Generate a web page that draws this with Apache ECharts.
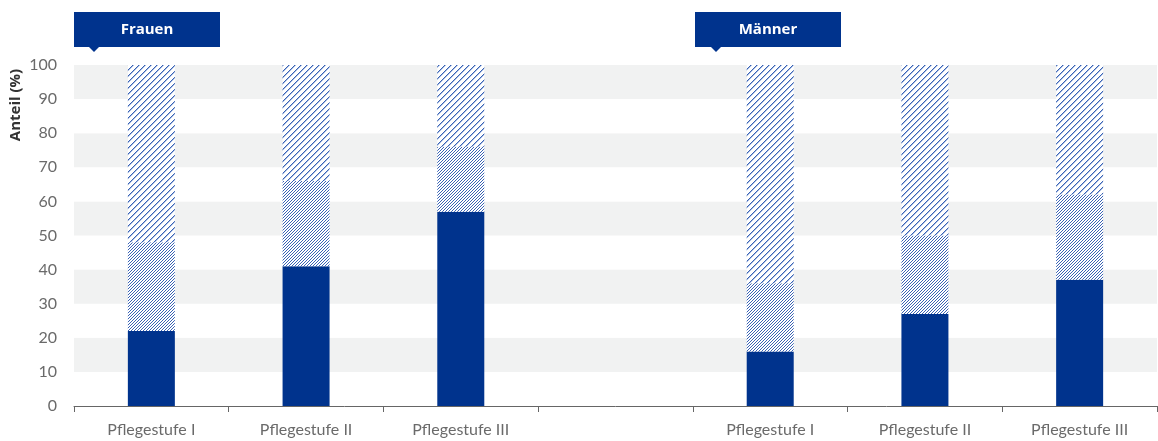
<!DOCTYPE html>
<html><head><meta charset="utf-8">
<script src="https://cdn.jsdelivr.net/npm/echarts@6/dist/echarts.min.js"></script>
<style>html,body{margin:0;padding:0;background:#fff}#c{width:1158px;height:441px}</style>
</head><body><div id="c"></div>
<script>
const categories = ['Pflegestufe I','Pflegestufe II','Pflegestufe III','','Pflegestufe I','Pflegestufe II','Pflegestufe III'];
const solidValues = [22, 41, 57, null, 16, 27, 37];
const denseTop = [48, 66, 76, null, 36, 50, 62];
const totalTop = [100, 100, 100, null, 100, 100, 100];
const yTicks = [0,10,20,30,40,50,60,70,80,90,100];
const groupTitles = ['Frauen', 'Männer'];

const denseValues = denseTop.map((v,i)=> v==null?null: v - solidValues[i]);
const sparseValues = totalTop.map((v,i)=> v==null?null: v - denseTop[i]);

const BLUE = '#00338d';
function hatch(s, color, soft){
  const c = document.createElement('canvas');
  c.width = s; c.height = s;
  const ctx = c.getContext('2d');
  ctx.fillStyle = '#fff'; ctx.fillRect(0,0,s,s);
  for(let y=0;y<s;y++) for(let x=0;x<s;x++){
    const r = (x+y)%s;
    if(r === s-1){ ctx.fillStyle = color; ctx.fillRect(x,y,1,1); }
    else if(soft && r === 0){ ctx.fillStyle = soft; ctx.fillRect(x,y,1,1); }
  }
  return c;
}
const densePat = {image: hatch(3,'#3862b5'), repeat:'repeat'};
const sparsePat = {image: hatch(6,'#3862b5','#a9bde3'), repeat:'repeat'};

const chart = echarts.init(document.getElementById('c'), null, {renderer:'canvas'});
const lab = {fontFamily:'Lato', fontSize:16, color:'#6a6a6a'};
chart.setOption({
  animation:false,
  grid:{left:74, right:1, top:65, bottom:35, containLabel:false},
  xAxis:{type:'category', data:categories, boundaryGap:true,
    axisLine:{lineStyle:{color:'#666', width:1}},
    axisTick:{show:true, length:6, lineStyle:{color:'#666'}},
    axisLabel:Object.assign({margin:16, interval:0}, lab)},
  yAxis:{type:'value', min:0, max:100, interval:10,
    axisLine:{show:false}, axisTick:{show:false},
    splitLine:{show:false},
    splitArea:{show:true, areaStyle:{color:['#ffffff','#f1f2f2']}},
    axisLabel:Object.assign({margin:17, formatter:v=> yTicks.includes(v)? String(v):''}, lab)},
  series:[
    {type:'bar', stack:'a', data:solidValues, barWidth:47, itemStyle:{color:BLUE}},
    {type:'bar', stack:'a', data:denseValues, barWidth:47, itemStyle:{color:densePat}},
    {type:'bar', stack:'a', data:sparseValues, barWidth:47, itemStyle:{color:sparsePat}}
  ],
  graphic:[
    {type:'text', x:16, y:105, rotation:Math.PI/2, style:{text:'Anteil (%)', font:'bold 15px "Open Sans"', fill:'#333', align:'center', verticalAlign:'middle'}},
    {type:'rect', shape:{x:74,y:12,width:146,height:35}, style:{fill:BLUE}},
    {type:'polygon', shape:{points:[[88,46],[100,46],[94,52]]}, style:{fill:BLUE}},
    {type:'text', x:147, y:30, style:{text:groupTitles[0], font:'bold 15px "Open Sans"', fill:'#fff', align:'center', verticalAlign:'middle'}},
    {type:'rect', shape:{x:695,y:12,width:146,height:35}, style:{fill:BLUE}},
    {type:'polygon', shape:{points:[[710,46],[722,46],[716,52]]}, style:{fill:BLUE}},
    {type:'text', x:768, y:30, style:{text:groupTitles[1], font:'bold 15px "Open Sans"', fill:'#fff', align:'center', verticalAlign:'middle'}}
  ]
});
</script></body></html>
